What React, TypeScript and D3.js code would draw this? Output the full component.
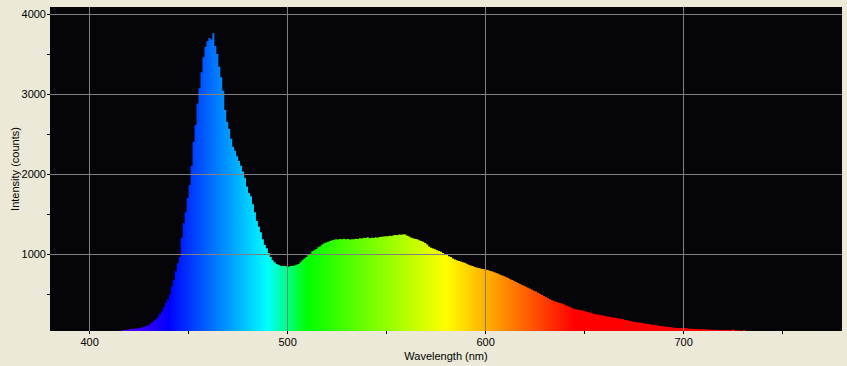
import React from 'react';
import * as d3 from 'd3';

// spectrometer readout, 1 nm bins starting at 410 nm
const startNm = 410;
const intensity = [
  0, 0, 0, 0, 0, 0, 38, 45, 45, 50,
  58, 60, 62, 64, 66, 70, 78, 85, 95, 102,
  118, 135, 160, 180, 205, 245, 280, 330, 385, 430,
  490, 590, 670, 780, 880, 960, 1200, 1380, 1520, 1700,
  1860, 2100, 2400, 2610, 2880, 3070, 3270, 3460, 3590, 3660,
  3700, 3680, 3760, 3600, 3500, 3340, 3210, 3040, 2800, 2650,
  2560, 2440, 2340, 2290, 2220, 2160, 2100, 2030, 1950, 1840,
  1760, 1720, 1620, 1520, 1410, 1340, 1270, 1180, 1110, 1070,
  1010, 960, 920, 895, 870, 858, 850, 848, 845, 842,
  838, 845, 848, 852, 862, 872, 895, 920, 940, 960,
  985, 1000, 1030, 1045, 1060, 1080, 1095, 1115, 1130, 1140,
  1150, 1160, 1170, 1175, 1180, 1178, 1185, 1182, 1188, 1180,
  1185, 1178, 1182, 1180, 1188, 1185, 1195, 1190, 1200, 1198,
  1205, 1195, 1200, 1198, 1205, 1200, 1210, 1212, 1215, 1218,
  1220, 1225, 1222, 1230, 1235, 1232, 1240, 1238, 1245, 1240,
  1225, 1215, 1200, 1195, 1185, 1180, 1170, 1160, 1150, 1135,
  1115, 1090, 1075, 1065, 1055, 1045, 1035, 1025, 1010, 995,
  985, 970, 960, 940, 928, 918, 910, 902, 895, 888,
  875, 862, 852, 845, 835, 828, 822, 815, 810, 805,
  800, 792, 785, 778, 768, 758, 748, 738, 728, 718,
  706, 695, 682, 670, 658, 646, 634, 622, 610, 598,
  586, 574, 562, 550, 538, 526, 512, 498, 485, 472,
  458, 444, 430, 418, 408, 400, 392, 385, 378, 368,
  355, 345, 335, 325, 312, 305, 300, 296, 292, 285,
  278, 272, 265, 258, 250, 244, 240, 235, 230, 226,
  222, 216, 212, 206, 202, 198, 194, 190, 186, 180,
  172, 166, 160, 154, 148, 145, 142, 138, 135, 130,
  126, 122, 118, 114, 111, 108, 104, 100, 96, 92,
  88, 85, 82, 79, 76, 74, 72, 71, 70, 70,
  69, 66, 63, 60, 62, 58, 57, 56, 55, 54,
  54, 52, 51, 50, 50, 49, 48, 47, 46, 46,
  45, 44, 44, 42, 48, 50, 40, 39, 38, 37,
  46, 36, 34, 33, 0,
];

const xTicks = [400, 450, 500, 550, 600, 650, 700, 750];
const xLabels = [400, 500, 600, 700];
const yTicks = [500, 1000, 1500, 2000, 2500, 3000, 3500, 4000];
const yLabels = [1000, 2000, 3000, 4000];

// wavelength -> display colour
const colorStops = [380, 440, 490, 510, 580, 645, 780];
const colorValues = ['#ff00ff', '#0000ff', '#00ffff', '#00ff00', '#ffff00', '#ff0000', '#ff0000'];

const width = 847;
const height = 366;
const margin = { top: 7, right: 5, bottom: 35, left: 50 };
const font = '"Liberation Sans", Arial, sans-serif';

export default function App() {
  const x = d3.scaleLinear().domain([380, 780]).range([margin.left, width - margin.right]);
  const y = d3.scaleLinear().domain([33, 4088]).range([height - margin.bottom, margin.top]);
  const color = d3.scaleLinear<string>().domain(colorStops).range(colorValues).interpolate(d3.interpolateRgb);

  const points = intensity.map((v, i) => ({ nm: startNm + i, v }));
  points.push({ nm: startNm + intensity.length, v: 0 });

  const area = d3.area<{ nm: number; v: number }>()
    .x(d => x(d.nm))
    .y0(y(0))
    .y1(d => y(d.v))
    .curve(d3.curveStepAfter);

  const [x0, x1] = x.range();
  const [yb, yt] = y.range();
  const gx = (v: number) => Math.floor(x(v)) + 0.5;
  const gy = (v: number) => Math.round(y(v)) + 0.5;

  const gradStops = d3.range(380, 781, 5);

  return (
    <svg width={width} height={height} style={{ position: 'absolute', left: 0, top: 0, background: '#ECE9D8' }}
      fontFamily={font} fontSize={11}>
      <defs>
        <clipPath id="plot">
          <rect x={x0} y={yt} width={x1 - x0} height={yb - yt} />
        </clipPath>
        <linearGradient id="spectrum" gradientUnits="userSpaceOnUse" x1={x(380)} x2={x(780)} y1={0} y2={0}>
          {gradStops.map(nm => (
            <stop key={nm} offset={(nm - 380) / 400} stopColor={color(nm)} />
          ))}
        </linearGradient>
      </defs>
      <rect x={x0} y={yt} width={x1 - x0} height={yb - yt} fill="#050408" />
      <path d={area(points) ?? ''} fill="url(#spectrum)" clipPath="url(#plot)" />

      <g stroke="#808080" strokeWidth={1} shapeRendering="crispEdges">
        {xLabels.map(t => <line key={t} x1={gx(t)} x2={gx(t)} y1={yt} y2={yb} />)}
        {yLabels.map(t => <line key={t} x1={x0} x2={x1} y1={gy(t)} y2={gy(t)} />)}
      </g>

      <g stroke="#000" shapeRendering="crispEdges">
        {xTicks.map(t => <line key={t} x1={gx(t)} x2={gx(t)} y1={yb} y2={yb + 3} />)}
        {yTicks.map(t => <line key={t} x1={x0 - 3} x2={x0} y1={gy(t)} y2={gy(t)} />)}
      </g>

      {xLabels.map(t => (
        <text key={t} x={x(t)} y={yb + 15} textAnchor="middle">{t}</text>
      ))}
      {yLabels.map(t => (
        <text key={t} x={x0 - 4} y={y(t)} dy="0.35em" textAnchor="end">{t}</text>
      ))}

      <text x={(x0 + x1) / 2} y={360} textAnchor="middle">Wavelength (nm)</text>
      <text transform={`translate(18.5,${(yb + yt) / 2}) rotate(-90)`} textAnchor="middle">Intensity (counts)</text>
    </svg>
  );
}
